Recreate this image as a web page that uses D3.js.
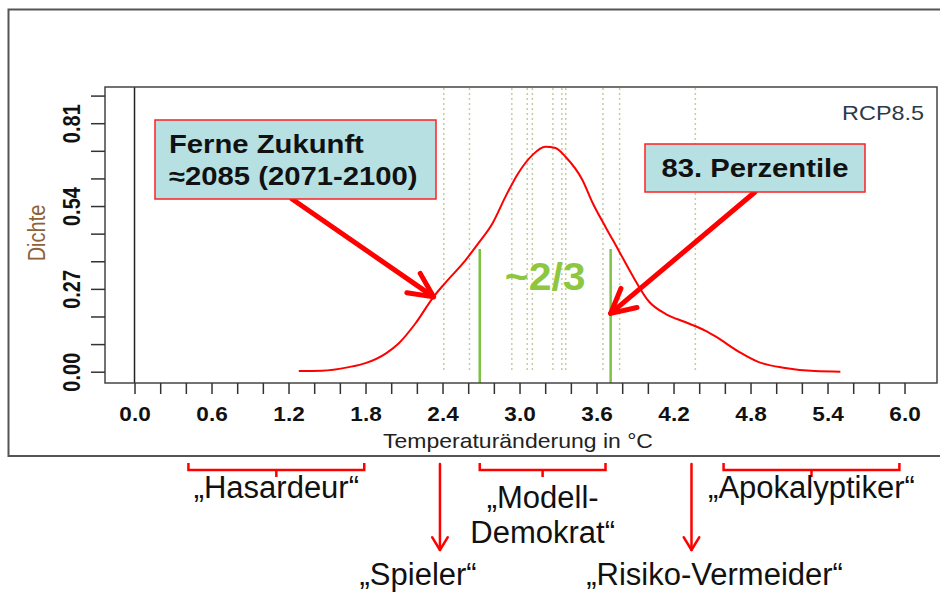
<!DOCTYPE html>
<html>
<head>
<meta charset="utf-8">
<script src="https://cdn.jsdelivr.net/npm/d3@7"></script>
<style>
  body { margin: 0; background: #fff; }
  text { font-family: "Liberation Sans", Arial, sans-serif; }
</style>
</head>
<body>
<svg width="940" height="593"></svg>
<script>
// **** data ****
var tempX    = [1.28, 1.46, 1.67, 1.80, 1.96, 2.06, 2.19, 2.33, 2.42, 2.58, 2.68, 2.79, 2.89, 2.99, 3.10, 3.20, 3.28, 3.36, 3.49, 3.57, 3.67, 3.77, 3.87, 4.01, 4.14, 4.29, 4.45, 4.53, 4.71, 4.86, 5.07, 5.30, 5.50];
var density  = [0.002, 0.003, 0.015, 0.028, 0.060, 0.093, 0.158, 0.244, 0.289, 0.364, 0.419, 0.484, 0.570, 0.647, 0.706, 0.733, 0.729, 0.700, 0.625, 0.550, 0.472, 0.397, 0.321, 0.228, 0.188, 0.162, 0.133, 0.114, 0.065, 0.032, 0.012, 0.002, 0.000];
var modelRuns = [2.41, 2.61, 2.94, 3.06, 3.10, 3.26, 3.33, 3.36, 3.65, 3.78, 4.37];
var percentiles = [2.69, 3.71];     // 17. / 83. Perzentile
var percentileTop = 0.40;
var xTickValues = d3.range(0, 31).map(function(i) { return +(i * 0.2).toFixed(1); });
var xLabelValues = [0.0, 0.6, 1.2, 1.8, 2.4, 3.0, 3.6, 4.2, 4.8, 5.4, 6.0];
var yTickValues = d3.range(0, 11).map(function(i) { return +(i * 0.09).toFixed(2); });
var yLabelValues = [0.00, 0.27, 0.54, 0.81];

var brackets = [
  { lines: ['\u201eHasardeur\u201c'], from: 0.42, to: 1.79 },
  { lines: ['\u201eModell-', 'Demokrat\u201c'], from: 2.69, to: 3.67 },
  { lines: ['\u201eApokalyptiker\u201c'], from: 4.59, to: 5.96 }
];
var pointers = [
  { text: '\u201eSpieler\u201c', at: 2.38, labelAt: 2.21 },
  { text: '\u201eRisiko-Vermeider\u201c', at: 4.34, labelAt: 4.52 }
];

// **** scales ****
var svg = d3.select('svg');
var xScale = d3.scaleLinear().domain([-0.23, 6.253]).range([105, 937]);
var yScale = d3.scaleLinear().domain([-0.0368, 0.928]).range([383, 87]);

// outer frame
svg.append('path')
  .attr('d', 'M945,9.5 H8.5 V456 H945')
  .attr('fill', 'none').attr('stroke', '#555').attr('stroke-width', 2);

// dotted model lines
svg.append('g').selectAll('line')
  .data(modelRuns).enter().append('line')
  .attr('x1', function(d) { return xScale(d); })
  .attr('x2', function(d) { return xScale(d); })
  .attr('y1', 88).attr('y2', yScale(0))
  .attr('stroke', '#c5cc9f').attr('stroke-width', 1.5)
  .attr('stroke-dasharray', '2,3');

// zero line
svg.append('line')
  .attr('x1', xScale(0)).attr('x2', xScale(0))
  .attr('y1', 87).attr('y2', 383)
  .attr('stroke', '#222').attr('stroke-width', 1.5);

// percentile lines
svg.append('g').selectAll('line')
  .data(percentiles).enter().append('line')
  .attr('x1', function(d) { return xScale(d); })
  .attr('x2', function(d) { return xScale(d); })
  .attr('y1', yScale(percentileTop)).attr('y2', 383)
  .attr('stroke', '#7dc242').attr('stroke-width', 2.5);

// density curve
var line = d3.line()
  .x(function(d, i) { return xScale(tempX[i]); })
  .y(function(d) { return yScale(d); })
  .curve(d3.curveMonotoneX);
svg.append('path')
  .datum(density)
  .attr('d', line)
  .attr('fill', 'none').attr('stroke', '#ff0000').attr('stroke-width', 2);

// plot box
svg.append('rect')
  .attr('x', 105).attr('y', 87).attr('width', 832).attr('height', 296)
  .attr('fill', 'none').attr('stroke', '#444').attr('stroke-width', 1.5);

// axes
var xAxis = svg.append('g').attr('transform', 'translate(0,383)')
  .call(d3.axisBottom(xScale).tickValues(xTickValues).tickSize(11).tickPadding(13)
    .tickFormat(function(d) { return xLabelValues.indexOf(d) >= 0 ? d.toFixed(1) : ''; }));
xAxis.select('.domain').remove();
xAxis.selectAll('line').attr('stroke', '#333').attr('stroke-width', 1.5);
xAxis.selectAll('text')
  .attr('font-size', 20).attr('font-weight', 'bold').attr('fill', '#111')
  .attr('font-family', '"Liberation Sans", Arial, sans-serif')
  .attr('transform', 'scale(1.13,1)');

var yAxis = svg.append('g').attr('transform', 'translate(105,0)')
  .call(d3.axisLeft(yScale).tickValues(yTickValues).tickSize(14)
    .tickFormat(function(d) { return yLabelValues.indexOf(d) >= 0 ? d.toFixed(2) : ''; }));
yAxis.select('.domain').remove();
yAxis.selectAll('line').attr('stroke', '#333').attr('stroke-width', 1.5);
yAxis.selectAll('text')
  .attr('x', 0).attr('y', 0).attr('dy', 0)
  .attr('text-anchor', 'middle')
  .attr('font-size', 20).attr('font-weight', 'bold').attr('fill', '#111')
  .attr('font-family', '"Liberation Sans", Arial, sans-serif')
  .attr('transform', 'translate(-25,0) scale(1.15,1) rotate(-90)');

// axis titles
svg.append('text')
  .attr('transform', 'translate(518,448) scale(1.15,1)')
  .attr('text-anchor', 'middle').attr('font-size', 20).attr('fill', '#222')
  .text('Temperaturänderung in °C');
svg.append('text')
  .attr('transform', 'translate(45,233) scale(1.15,1) rotate(-90)')
  .attr('text-anchor', 'middle').attr('font-size', 20).attr('fill', '#8c6239')
  .text('Dichte');
svg.append('text')
  .attr('transform', 'translate(924,120) scale(1.17,1)')
  .attr('text-anchor', 'end').attr('font-size', 20).attr('fill', '#2b3a4a')
  .text('RCP8.5');

// ~2/3
svg.append('text')
  .attr('transform', 'translate(' + xScale(d3.mean(percentiles)) + ',290) scale(1.05,1)')
  .attr('text-anchor', 'middle').attr('font-size', 39).attr('font-weight', 'bold')
  .attr('fill', '#8dc63f')
  .text('~2/3');

// annotation arrows (thick red)
function arrow(g, x1, y1, x2, y2, width, barb, spread) {
  var ang = Math.atan2(y1 - y2, x1 - x2);
  var a1 = ang + spread, a2 = ang - spread;
  g.append('line').attr('x1', x1).attr('y1', y1).attr('x2', x2).attr('y2', y2)
    .attr('stroke', '#ff0000').attr('stroke-width', width).attr('stroke-linecap', 'round');
  g.append('path')
    .attr('d', 'M' + (x2 + barb * Math.cos(a1)) + ',' + (y2 + barb * Math.sin(a1)) +
      ' L' + x2 + ',' + y2 +
      ' L' + (x2 + barb * Math.cos(a2)) + ',' + (y2 + barb * Math.sin(a2)))
    .attr('fill', 'none').attr('stroke', '#ff0000').attr('stroke-width', width)
    .attr('stroke-linecap', 'round').attr('stroke-linejoin', 'round');
}

var ann = svg.append('g');
arrow(ann, 292, 199, xScale(2.33), yScale(0.244), 5, 27, 0.45);
arrow(ann, 755, 192, xScale(3.71), yScale(0.19), 5, 27, 0.48);

// annotation boxes
function box(x, y, w, h, lines, baselines, anchor, tx) {
  ann.append('rect').attr('x', x).attr('y', y).attr('width', w).attr('height', h)
    .attr('fill', '#b7e0e3').attr('stroke', '#ff2020').attr('stroke-width', 1.5);
  lines.forEach(function(t, i) {
    ann.append('text')
      .attr('transform', 'translate(' + tx + ',' + baselines[i] + ') scale(1.17,1)')
      .attr('text-anchor', anchor).attr('font-size', 25).attr('font-weight', 'bold')
      .attr('fill', '#111').text(t);
  });
}
box(155, 120, 281, 79, ['Ferne Zukunft', '\u22482085 (2071-2100)'], [153, 185], 'start', 169);
box(645, 144, 220, 48, ['83. Perzentile'], [177], 'middle', 755);

// bottom: types of decision makers
var bottom = svg.append('g');
brackets.forEach(function(b) {
  var x1 = xScale(b.from), x2 = xScale(b.to), xm = (x1 + x2) / 2;
  bottom.append('path')
    .attr('d', 'M' + x1 + ',463 V470 H' + x2 + ' V463 M' + xm + ',470 V477')
    .attr('fill', 'none').attr('stroke', '#ff0000').attr('stroke-width', 2.5);
  b.lines.forEach(function(t, i) {
    bottom.append('text')
      .attr('x', xm).attr('y', (b.lines.length > 1 ? 508 : 498) + i * 35)
      .attr('text-anchor', 'middle').attr('font-size', 31).attr('fill', '#111')
      .text(t);
  });
});
pointers.forEach(function(p) {
  arrow(bottom, xScale(p.at), 464, xScale(p.at), 550, 2.5, 15, 0.55);
  bottom.append('text')
    .attr('x', xScale(p.labelAt)).attr('y', 585)
    .attr('text-anchor', 'middle').attr('font-size', 31).attr('fill', '#111')
    .text(p.text);
});
</script>
</body>
</html>
